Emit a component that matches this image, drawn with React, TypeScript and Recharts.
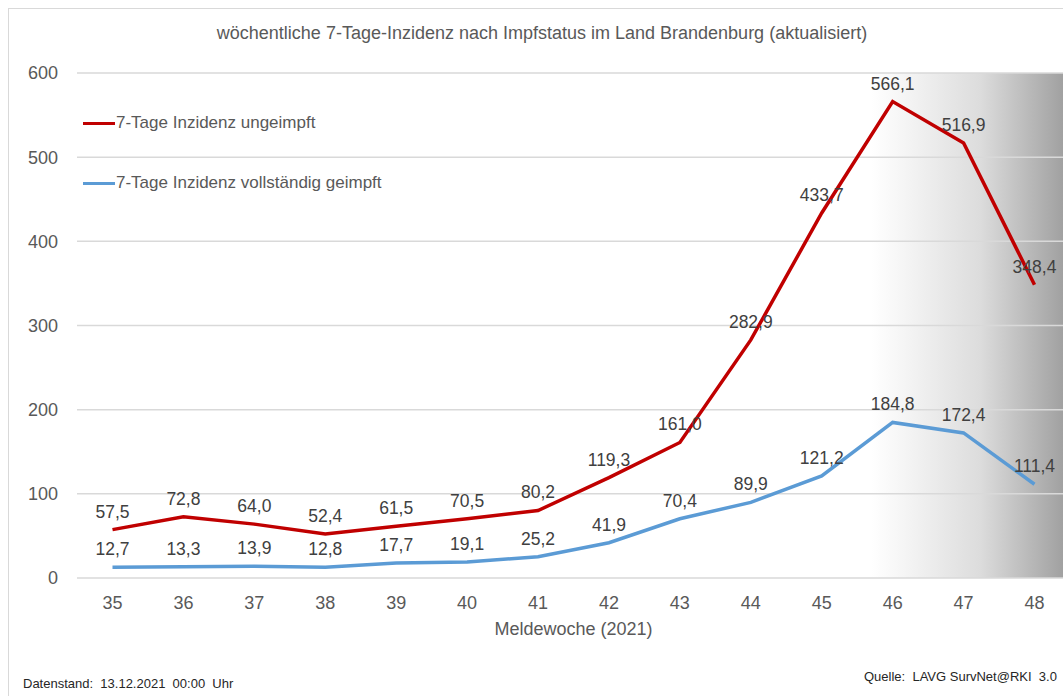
import React from 'react';
import { LineChart, Line, XAxis, YAxis, CartesianGrid, LabelList } from 'recharts';

const weeks = ['35', '36', '37', '38', '39', '40', '41', '42', '43', '44', '45', '46', '47', '48'];
const ungeimpft = [57.5, 72.8, 64.0, 52.4, 61.5, 70.5, 80.2, 119.3, 161.0, 282.9, 433.7, 566.1, 516.9, 348.4];
const geimpft = [12.7, 13.3, 13.9, 12.8, 17.7, 19.1, 25.2, 41.9, 70.4, 89.9, 121.2, 184.8, 172.4, 111.4];
const yTicks = [0, 100, 200, 300, 400, 500, 600];
const seriesNames = ['7-Tage Inzidenz ungeimpft', '7-Tage Inzidenz vollständig geimpft'];

const data = weeks.map((w, i) => ({ week: w, ungeimpft: ungeimpft[i], geimpft: geimpft[i] }));

const FONT = "'Liberation Sans Narrow','Arial Narrow','Liberation Sans',Arial,sans-serif";
const RED = '#C00000';
const BLUE = '#5B9BD5';
const GRID = '#d9d9d9';
const TXT = '#595959';

const fmt = (v: any) => Number(v).toFixed(1).replace('.', ',');

export default function App() {
  return (
    <div style={{ position: 'absolute', left: 0, top: 0, width: 1063, height: 696, overflow: 'hidden', background: '#fff', fontFamily: FONT }}>
      <div style={{ position: 'absolute', left: 8, top: 8, width: 1100, height: 720, borderLeft: `1px solid ${GRID}`, borderTop: `1px solid ${GRID}` }} />
      <div style={{ position: 'absolute', left: 0, width: 1084, top: 23, textAlign: 'center', fontSize: 18, color: TXT, whiteSpace: 'nowrap' }}>
        wöchentliche 7-Tage-Inzidenz nach Impfstatus im Land Brandenburg (aktualisiert)
      </div>
      <div style={{ position: 'absolute', left: 0, top: 0 }}>
        <LineChart width={1080} height={696} data={data} margin={{ top: 73, right: 10, bottom: 88, left: 17 }}>
          <defs>
            <linearGradient id="shade" x1="0" y1="0" x2="1" y2="0">
              <stop offset="0" stopColor="#ffffff" />
              <stop offset="0.8" stopColor="#ffffff" />
              <stop offset="0.83" stopColor="#f6f6f6" />
              <stop offset="0.91" stopColor="#dcdcdc" />
              <stop offset="1" stopColor="#9c9c9c" />
            </linearGradient>
          </defs>
          <CartesianGrid vertical={false} stroke={GRID} strokeWidth={1.5} fill="url(#shade)" fillOpacity={1} />
          <XAxis
            dataKey="week"
            padding={{ left: 35.5, right: 35.5 }}
            axisLine={false}
            tickLine={false}
            tickMargin={12}
            tick={{ fill: TXT, fontSize: 18, fontFamily: FONT }}
            label={{ value: 'Meldewoche (2021)', position: 'bottom', offset: 14, fill: TXT, fontSize: 18, fontFamily: FONT }}
          />
          <YAxis
            width={60}
            domain={[0, 600]}
            ticks={yTicks}
            axisLine={false}
            tickLine={false}
            tickMargin={13}
            tick={{ fill: TXT, fontSize: 18, fontFamily: FONT }}
          />
          <Line type="linear" dataKey="ungeimpft" name={seriesNames[0]} stroke={RED} strokeWidth={3.5} dot={false} isAnimationActive={false}>
            <LabelList dataKey="ungeimpft" position="top" offset={12} formatter={fmt} fill="#404040" fontSize={17.5} fontFamily={FONT} />
          </Line>
          <Line type="linear" dataKey="geimpft" name={seriesNames[1]} stroke={BLUE} strokeWidth={3.5} dot={false} isAnimationActive={false}>
            <LabelList dataKey="geimpft" position="top" offset={12} formatter={fmt} fill="#404040" fontSize={17.5} fontFamily={FONT} />
          </Line>
        </LineChart>
      </div>
      <div style={{ position: 'absolute', left: 83, top: 111, fontSize: 17, color: TXT }}>
        {[RED, BLUE].map((c, i) => (
          <div key={i} style={{ display: 'flex', alignItems: 'center', height: 24, marginBottom: i === 0 ? 36 : 0 }}>
            <div style={{ width: 32, height: 3, background: c }} />
            <span style={{ marginLeft: 1, whiteSpace: 'nowrap' }}>{seriesNames[i]}</span>
          </div>
        ))}
      </div>
      <div style={{ position: 'absolute', left: 23, top: 676, fontSize: 13, color: '#262626', whiteSpace: 'nowrap' }}>
        Datenstand:&nbsp; 13.12.2021&nbsp; 00:00&nbsp; Uhr
      </div>
      <div style={{ position: 'absolute', left: 864, top: 669, fontSize: 13, color: '#262626', whiteSpace: 'nowrap' }}>
        Quelle:&nbsp; LAVG SurvNet@RKI&nbsp; 3.0
      </div>
    </div>
  );
}
